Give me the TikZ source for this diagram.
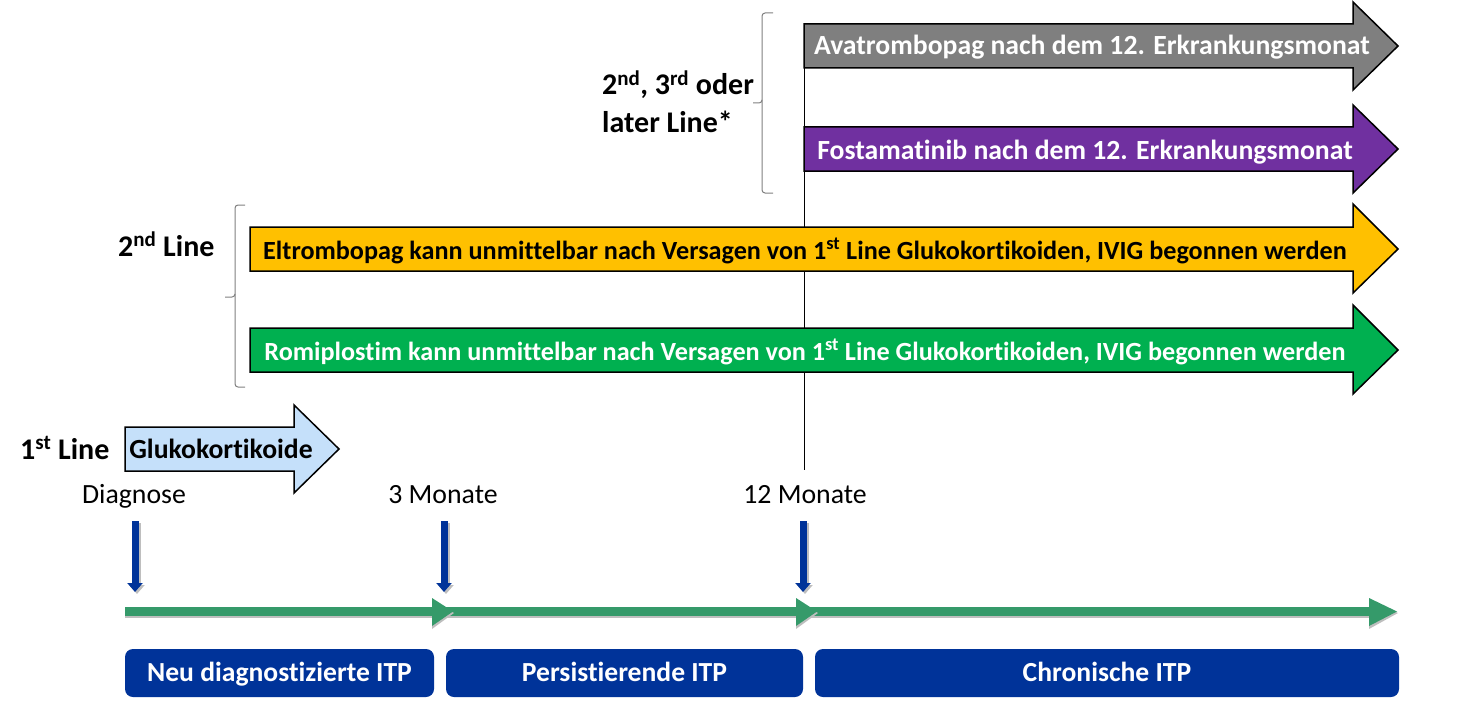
\documentclass[tikz,border=0pt]{standalone}
\usepackage{fontspec}
\setmainfont{Carlito}[Ligatures=NoCommon]
\usetikzlibrary{arrows.meta}
\definecolor{cgray}{RGB}{127,127,127}
\definecolor{cpurple}{RGB}{112,48,160}
\definecolor{cyellow}{RGB}{255,192,0}
\definecolor{cgreen}{RGB}{0,176,80}
\definecolor{clblue}{RGB}{197,224,250}
\definecolor{cdblue}{RGB}{0,51,153}
\definecolor{ctime}{RGB}{53,154,106}
\definecolor{cshadow}{RGB}{190,190,190}
\begin{document}
\begin{tikzpicture}[x=1pt,y=-1pt,
  fat/.style={draw=black,line width=1.5pt,line join=miter},
  atext/.style={font=\fontsize{26.2}{30}\selectfont\bfseries,inner sep=0pt,anchor=base},
  btext/.style={font=\fontsize{27.7}{32}\selectfont\bfseries,inner sep=0pt,anchor=base},
  lab/.style={font=\fontsize{30}{34}\selectfont\bfseries,inner sep=0pt,anchor=base west},
  tick/.style={font=\fontsize{27.8}{32}\selectfont,inner sep=0pt,anchor=base},
  brace/.style={draw=black!50,line width=1pt,rounded corners=3pt},
  phase/.style={fill=cdblue,rounded corners=8pt,draw=none},
  ptext/.style={font=\fontsize{27.6}{32}\selectfont\bfseries,text=white,inner sep=0pt,anchor=base},
  down/.style={line width=7pt,cdblue,-{Triangle[width=15pt,length=9pt]}},
  downsh/.style={line width=7pt,cshadow,-{Triangle[width=15pt,length=9pt]}}]
\useasboundingbox (0,0) rectangle (1472,706);

% vertical line at 12 months
\coordinate (vtop) at (804,24);
\coordinate (vbot) at (804,470);
\draw[line width=1pt] (vtop) -- (vbot);

% big arrows
\draw[fat,fill=cgray] (804,24) -- (1353,24) -- (1353,2) -- (1398,46) -- (1353,90) -- (1353,68) -- (804,68) -- cycle;
\node[btext,text=white] (ava) at (1092,55) {Avatrombopag nach dem 12. Erkrankungsmonat};
\draw[fat,fill=cpurple] (804,127) -- (1353,127) -- (1353,105) -- (1398,149) -- (1353,193) -- (1353,171) -- (804,171) -- cycle;
\node[btext,text=white] (fos) at (1085,159) {Fostamatinib nach dem 12. Erkrankungsmonat};
\draw[fat,fill=cyellow] (250,227) -- (1353,227) -- (1353,204) -- (1398,249) -- (1353,293) -- (1353,271) -- (250,271) -- cycle;
\node[atext,text=black] (elt) at (805,259) {Eltrombopag kann unmittelbar nach Versagen von 1\textsuperscript{st} Line Glukokortikoiden, IVIG begonnen werden};
\draw[fat,fill=cgreen] (250,328) -- (1353,328) -- (1353,305) -- (1398,350) -- (1353,394) -- (1353,372) -- (250,372) -- cycle;
\node[atext,text=white] (rom) at (805,360) {Romiplostim kann unmittelbar nach Versagen von 1\textsuperscript{st} Line Glukokortikoiden, IVIG begonnen werden};
\draw[fat,fill=clblue] (125,427) -- (294,427) -- (294,405) -- (339,449) -- (294,493) -- (294,471) -- (125,471) -- cycle;
\node[btext,text=black] (glu) at (221,458) {Glukokortikoide};

% braces
\draw[brace] (773,13) -| (762,103) -- (753,103);
\draw[brace] (762,100) |- (773,193);
\draw[brace] (245,205) -| (235,297) -- (225,297);
\draw[brace] (235,294) |- (245,387);

% labels
\node[lab] (l3a) at (602,95) {2\textsuperscript{nd}, 3\textsuperscript{rd} oder};
\node[lab] (l3b) at (602,132) {later Line*};
\node[lab] (l2) at (118,256) {2\textsuperscript{nd} Line};
\node[lab] (l1) at (20,459) {1\textsuperscript{st} Line};

% time labels
\node[tick] (t0) at (134,503) {Diagnose};
\node[tick] (t3) at (443,503) {3 Monate};
\node[tick] (t12) at (805,503) {12 Monate};

% down arrows
\foreach \x/\n in {135/a,444/b,803/c}{
  \coordinate (s\n) at (\x,521);
  \coordinate (e\n) at (\x,592);
  \coordinate (ss\n) at (\x+2,523);
  \coordinate (se\n) at (\x+2,594);
  \draw[downsh] (ss\n) -- (se\n);
  \draw[down] (s\n) -- (e\n);
}

% timeline
\fill[cshadow] (125,614) rectangle (1369,618);
\fill[ctime] (125,607) rectangle (1375,616);
\foreach \b/\t in {432/453,796/817,1369/1397}{
  \fill[cshadow] (\b,600) -- (\t+1,613) -- (\b,629) -- cycle;
  \fill[ctime] (\b,598) -- (\t,611.5) -- (\b,626) -- cycle;
}

% phases
\draw[phase] (125,649) rectangle (434,697);
\node[ptext] (p1) at (279.5,681) {Neu diagnostizierte ITP};
\draw[phase] (446,649) rectangle (803,697);
\node[ptext] (p2) at (624.5,681) {Persistierende ITP};
\draw[phase] (815,649) rectangle (1399,697);
\node[ptext] (p3) at (1107,681) {Chronische ITP};
\end{tikzpicture}
\end{document}
